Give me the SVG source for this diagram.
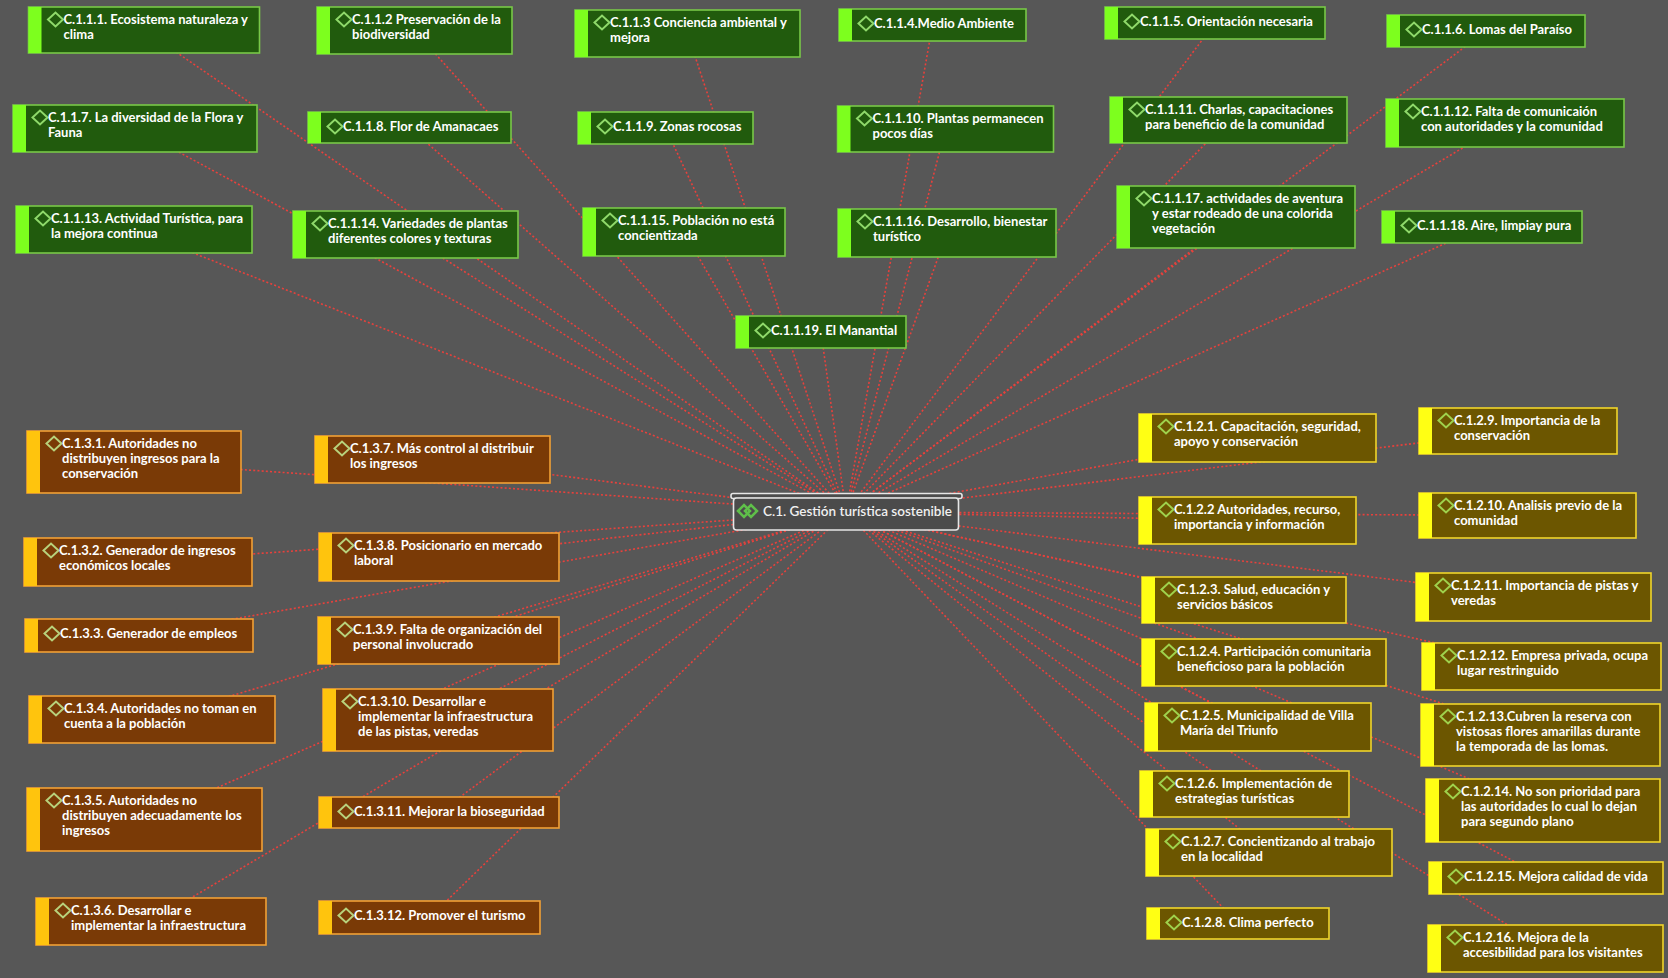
<svg xmlns="http://www.w3.org/2000/svg" width="1668" height="978" viewBox="0 0 1668 978">
<style>
.bg{fill:#575757}
.c line{stroke:#e8413c;stroke-width:1.6;stroke-dasharray:2 2.2;fill:none}
.box{stroke-width:1.6}
.dm{fill:none;stroke-width:2}
text{font-family:Lato,"Open Sans","Liberation Sans",sans-serif;font-weight:700;font-size:13px;fill:#ffffff}
.green .box{fill:#215b0d;stroke:#78c848}
.green .bar{fill:#7dff1e}
.green .dm{stroke:#8fd96a}
.orange .box{fill:#7a3a06;stroke:#f2a035}
.orange .bar{fill:#ffc40d}
.orange .dm{stroke:#b8d27c}
.yellow .box{fill:#6c5600;stroke:#f0d52a}
.yellow .bar{fill:#ffff14}
.yellow .dm{stroke:#9fd24c}
.center .box{fill:#4b4b4b;stroke:#e6e6e6}
.center .dm{stroke:#5fbf4a;stroke-width:2.5}
.center text{fill:#f0f0f0;font-weight:600;font-size:13.5px}
</style>
<rect class="bg" x="0" y="0" width="1668" height="978"/>
<g id="connectors" class="c">
<line x1="846" y1="512" x2="144" y2="30"/>
<line x1="846" y1="512" x2="414.5" y2="30.5"/>
<line x1="846" y1="512" x2="687.5" y2="33.5"/>
<line x1="846" y1="512" x2="932.5" y2="25"/>
<line x1="846" y1="512" x2="1215" y2="23"/>
<line x1="846" y1="512" x2="1486" y2="31"/>
<line x1="846" y1="512" x2="135" y2="128.5"/>
<line x1="846" y1="512" x2="409.5" y2="127.5"/>
<line x1="846" y1="512" x2="665.5" y2="128"/>
<line x1="846" y1="512" x2="945.5" y2="129"/>
<line x1="846" y1="512" x2="1228.5" y2="120"/>
<line x1="846" y1="512" x2="1505" y2="123"/>
<line x1="846" y1="512" x2="134" y2="229.5"/>
<line x1="846" y1="512" x2="405.5" y2="234.5"/>
<line x1="846" y1="512" x2="684" y2="232"/>
<line x1="846" y1="512" x2="947" y2="233"/>
<line x1="846" y1="512" x2="1236" y2="217"/>
<line x1="846" y1="512" x2="1482" y2="227"/>
<line x1="846" y1="512" x2="821" y2="332"/>
<line x1="846" y1="512" x2="134" y2="462"/>
<line x1="846" y1="512" x2="138" y2="562"/>
<line x1="846" y1="512" x2="139" y2="635.5"/>
<line x1="846" y1="512" x2="152" y2="719.5"/>
<line x1="846" y1="512" x2="144.5" y2="819.5"/>
<line x1="846" y1="512" x2="151" y2="921.5"/>
<line x1="846" y1="512" x2="432.5" y2="459.5"/>
<line x1="846" y1="512" x2="439" y2="557"/>
<line x1="846" y1="512" x2="438.5" y2="640.5"/>
<line x1="846" y1="512" x2="438" y2="720"/>
<line x1="846" y1="512" x2="439" y2="812.5"/>
<line x1="846" y1="512" x2="429.5" y2="917.5"/>
<line x1="846" y1="512" x2="1257.5" y2="438"/>
<line x1="846" y1="512" x2="1247.5" y2="520.5"/>
<line x1="846" y1="512" x2="1244" y2="600"/>
<line x1="846" y1="512" x2="1264" y2="662.5"/>
<line x1="846" y1="512" x2="1258" y2="727"/>
<line x1="846" y1="512" x2="1244.5" y2="794"/>
<line x1="846" y1="512" x2="1269" y2="852.5"/>
<line x1="846" y1="512" x2="1238" y2="923.5"/>
<line x1="846" y1="512" x2="1518" y2="431"/>
<line x1="846" y1="512" x2="1527.5" y2="515.5"/>
<line x1="846" y1="512" x2="1533.5" y2="597"/>
<line x1="846" y1="512" x2="1541.5" y2="666.5"/>
<line x1="846" y1="512" x2="1540.5" y2="735"/>
<line x1="846" y1="512" x2="1543" y2="810.5"/>
<line x1="846" y1="512" x2="1546" y2="878"/>
<line x1="846" y1="512" x2="1545.5" y2="948.5"/>
</g>

<g id="n-c111" class="green"><rect class="box" x="28.5" y="7" width="231" height="46"/><rect class="bar" x="28.5" y="7" width="13" height="46"/><path class="dm" d="M48,19.5 l7.5,-7 l7.5,7 l-7.5,7z"/><text x="63.5" y="24"><tspan x="63.5">C.1.1.1. Ecosistema naturaleza y</tspan><tspan x="63.5" dy="15">clima</tspan></text></g>
<g id="n-c112" class="green"><rect class="box" x="317" y="7" width="195" height="47"/><rect class="bar" x="317" y="7" width="13" height="47"/><path class="dm" d="M336.5,19.5 l7.5,-7 l7.5,7 l-7.5,7z"/><text x="352" y="24"><tspan x="352">C.1.1.2 Preservación de la</tspan><tspan x="352" dy="15">biodiversidad</tspan></text></g>
<g id="n-c113" class="green"><rect class="box" x="575" y="10" width="225" height="47"/><rect class="bar" x="575" y="10" width="13" height="47"/><path class="dm" d="M594.5,22.5 l7.5,-7 l7.5,7 l-7.5,7z"/><text x="610" y="27"><tspan x="610">C.1.1.3 Conciencia ambiental y</tspan><tspan x="610" dy="15">mejora</tspan></text></g>
<g id="n-c114" class="green"><rect class="box" x="839" y="9" width="187" height="32"/><rect class="bar" x="839" y="9" width="13" height="32"/><path class="dm" d="M858.5,23.5 l7.5,-7 l7.5,7 l-7.5,7z"/><text x="874" y="28">C.1.1.4.Medio Ambiente</text></g>
<g id="n-c115" class="green"><rect class="box" x="1105" y="7" width="220" height="32"/><rect class="bar" x="1105" y="7" width="13" height="32"/><path class="dm" d="M1124.5,21.5 l7.5,-7 l7.5,7 l-7.5,7z"/><text x="1140" y="26">C.1.1.5. Orientación necesaria</text></g>
<g id="n-c116" class="green"><rect class="box" x="1387" y="15" width="198" height="32"/><rect class="bar" x="1387" y="15" width="13" height="32"/><path class="dm" d="M1406.5,29.5 l7.5,-7 l7.5,7 l-7.5,7z"/><text x="1422" y="34">C.1.1.6. Lomas del Paraíso</text></g>
<g id="n-c117" class="green"><rect class="box" x="13" y="105" width="244" height="47"/><rect class="bar" x="13" y="105" width="13" height="47"/><path class="dm" d="M32.5,117.5 l7.5,-7 l7.5,7 l-7.5,7z"/><text x="48" y="122"><tspan x="48">C.1.1.7. La diversidad de la Flora y</tspan><tspan x="48" dy="15">Fauna</tspan></text></g>
<g id="n-c118" class="green"><rect class="box" x="308" y="112" width="203" height="31"/><rect class="bar" x="308" y="112" width="13" height="31"/><path class="dm" d="M327.5,126.5 l7.5,-7 l7.5,7 l-7.5,7z"/><text x="343" y="131">C.1.1.8. Flor de Amanacaes</text></g>
<g id="n-c119" class="green"><rect class="box" x="578" y="112" width="175" height="32"/><rect class="bar" x="578" y="112" width="13" height="32"/><path class="dm" d="M597.5,126.5 l7.5,-7 l7.5,7 l-7.5,7z"/><text x="613" y="131">C.1.1.9. Zonas rocosas</text></g>
<g id="n-c1110" class="green"><rect class="box" x="837.5" y="106" width="216" height="46"/><rect class="bar" x="837.5" y="106" width="13" height="46"/><path class="dm" d="M857,118.5 l7.5,-7 l7.5,7 l-7.5,7z"/><text x="872.5" y="123"><tspan x="872.5">C.1.1.10. Plantas permanecen</tspan><tspan x="872.5" dy="15">pocos días</tspan></text></g>
<g id="n-c1111" class="green"><rect class="box" x="1110" y="97" width="237" height="46"/><rect class="bar" x="1110" y="97" width="13" height="46"/><path class="dm" d="M1129.5,109.5 l7.5,-7 l7.5,7 l-7.5,7z"/><text x="1145" y="114"><tspan x="1145">C.1.1.11. Charlas, capacitaciones</tspan><tspan x="1145" dy="15">para beneficio de la comunidad</tspan></text></g>
<g id="n-c1112" class="green"><rect class="box" x="1386" y="99" width="238" height="48"/><rect class="bar" x="1386" y="99" width="13" height="48"/><path class="dm" d="M1405.5,111.5 l7.5,-7 l7.5,7 l-7.5,7z"/><text x="1421" y="116"><tspan x="1421">C.1.1.12. Falta de comunicaión</tspan><tspan x="1421" dy="15">con autoridades y la comunidad</tspan></text></g>
<g id="n-c1113" class="green"><rect class="box" x="16" y="206" width="236" height="47"/><rect class="bar" x="16" y="206" width="13" height="47"/><path class="dm" d="M35.5,218.5 l7.5,-7 l7.5,7 l-7.5,7z"/><text x="51" y="223"><tspan x="51">C.1.1.13. Actividad Turística, para</tspan><tspan x="51" dy="15">la mejora continua</tspan></text></g>
<g id="n-c1114" class="green"><rect class="box" x="293" y="211" width="225" height="47"/><rect class="bar" x="293" y="211" width="13" height="47"/><path class="dm" d="M312.5,223.5 l7.5,-7 l7.5,7 l-7.5,7z"/><text x="328" y="228"><tspan x="328">C.1.1.14. Variedades de plantas</tspan><tspan x="328" dy="15">diferentes colores y texturas</tspan></text></g>
<g id="n-c1115" class="green"><rect class="box" x="583" y="208" width="202" height="48"/><rect class="bar" x="583" y="208" width="13" height="48"/><path class="dm" d="M602.5,220.5 l7.5,-7 l7.5,7 l-7.5,7z"/><text x="618" y="225"><tspan x="618">C.1.1.15. Población no está</tspan><tspan x="618" dy="15">concientizada</tspan></text></g>
<g id="n-c1116" class="green"><rect class="box" x="838" y="209" width="218" height="48"/><rect class="bar" x="838" y="209" width="13" height="48"/><path class="dm" d="M857.5,221.5 l7.5,-7 l7.5,7 l-7.5,7z"/><text x="873" y="226"><tspan x="873">C.1.1.16. Desarrollo, bienestar</tspan><tspan x="873" dy="15">turístico</tspan></text></g>
<g id="n-c1117" class="green"><rect class="box" x="1117" y="186" width="238" height="62"/><rect class="bar" x="1117" y="186" width="13" height="62"/><path class="dm" d="M1136.5,198.5 l7.5,-7 l7.5,7 l-7.5,7z"/><text x="1152" y="203"><tspan x="1152">C.1.1.17. actividades de aventura</tspan><tspan x="1152" dy="15">y estar rodeado de una colorida</tspan><tspan x="1152" dy="15">vegetación</tspan></text></g>
<g id="n-c1118" class="green"><rect class="box" x="1382" y="211" width="200" height="32"/><rect class="bar" x="1382" y="211" width="13" height="32"/><path class="dm" d="M1401.5,225.5 l7.5,-7 l7.5,7 l-7.5,7z"/><text x="1417" y="230">C.1.1.18. Aire, limpiay pura</text></g>
<g id="n-c1119" class="green"><rect class="box" x="736" y="316" width="170" height="32"/><rect class="bar" x="736" y="316" width="13" height="32"/><path class="dm" d="M755.5,330.5 l7.5,-7 l7.5,7 l-7.5,7z"/><text x="771" y="335">C.1.1.19. El Manantial</text></g>

<g id="n-c131" class="orange"><rect class="box" x="27" y="431" width="214" height="62"/><rect class="bar" x="27" y="431" width="13" height="62"/><path class="dm" d="M46.5,443.5 l7.5,-7 l7.5,7 l-7.5,7z"/><text x="62" y="448"><tspan x="62">C.1.3.1. Autoridades no</tspan><tspan x="62" dy="15">distribuyen ingresos para la</tspan><tspan x="62" dy="15">conservación</tspan></text></g>
<g id="n-c132" class="orange"><rect class="box" x="24" y="538" width="228" height="48"/><rect class="bar" x="24" y="538" width="13" height="48"/><path class="dm" d="M43.5,550.5 l7.5,-7 l7.5,7 l-7.5,7z"/><text x="59" y="555"><tspan x="59">C.1.3.2. Generador de ingresos</tspan><tspan x="59" dy="15">económicos locales</tspan></text></g>
<g id="n-c133" class="orange"><rect class="box" x="25" y="619" width="228" height="33"/><rect class="bar" x="25" y="619" width="13" height="33"/><path class="dm" d="M44.5,633.5 l7.5,-7 l7.5,7 l-7.5,7z"/><text x="60" y="638">C.1.3.3. Generador de empleos</text></g>
<g id="n-c134" class="orange"><rect class="box" x="29" y="696" width="246" height="47"/><rect class="bar" x="29" y="696" width="13" height="47"/><path class="dm" d="M48.5,708.5 l7.5,-7 l7.5,7 l-7.5,7z"/><text x="64" y="713"><tspan x="64">C.1.3.4. Autoridades no toman en</tspan><tspan x="64" dy="15">cuenta a la población</tspan></text></g>
<g id="n-c135" class="orange"><rect class="box" x="27" y="788" width="235" height="63"/><rect class="bar" x="27" y="788" width="13" height="63"/><path class="dm" d="M46.5,800.5 l7.5,-7 l7.5,7 l-7.5,7z"/><text x="62" y="805"><tspan x="62">C.1.3.5. Autoridades no</tspan><tspan x="62" dy="15">distribuyen adecuadamente los</tspan><tspan x="62" dy="15">ingresos</tspan></text></g>
<g id="n-c136" class="orange"><rect class="box" x="36" y="898" width="230" height="47"/><rect class="bar" x="36" y="898" width="13" height="47"/><path class="dm" d="M55.5,910.5 l7.5,-7 l7.5,7 l-7.5,7z"/><text x="71" y="915"><tspan x="71">C.1.3.6. Desarrollar e</tspan><tspan x="71" dy="15">implementar la infraestructura</tspan></text></g>
<g id="n-c137" class="orange"><rect class="box" x="315" y="436" width="235" height="47"/><rect class="bar" x="315" y="436" width="13" height="47"/><path class="dm" d="M334.5,448.5 l7.5,-7 l7.5,7 l-7.5,7z"/><text x="350" y="453"><tspan x="350">C.1.3.7. Más control al distribuir</tspan><tspan x="350" dy="15">los ingresos</tspan></text></g>
<g id="n-c138" class="orange"><rect class="box" x="319" y="533" width="240" height="48"/><rect class="bar" x="319" y="533" width="13" height="48"/><path class="dm" d="M338.5,545.5 l7.5,-7 l7.5,7 l-7.5,7z"/><text x="354" y="550"><tspan x="354">C.1.3.8. Posicionario en mercado</tspan><tspan x="354" dy="15">laboral</tspan></text></g>
<g id="n-c139" class="orange"><rect class="box" x="318" y="617" width="241" height="47"/><rect class="bar" x="318" y="617" width="13" height="47"/><path class="dm" d="M337.5,629.5 l7.5,-7 l7.5,7 l-7.5,7z"/><text x="353" y="634"><tspan x="353">C.1.3.9. Falta de organización del</tspan><tspan x="353" dy="15">personal involucrado</tspan></text></g>
<g id="n-c1310" class="orange"><rect class="box" x="323" y="689" width="230" height="62"/><rect class="bar" x="323" y="689" width="13" height="62"/><path class="dm" d="M342.5,701.5 l7.5,-7 l7.5,7 l-7.5,7z"/><text x="358" y="706"><tspan x="358">C.1.3.10. Desarrollar e</tspan><tspan x="358" dy="15">implementar la infraestructura</tspan><tspan x="358" dy="15">de las pistas, veredas</tspan></text></g>
<g id="n-c1311" class="orange"><rect class="box" x="319" y="797" width="240" height="31"/><rect class="bar" x="319" y="797" width="13" height="31"/><path class="dm" d="M338.5,811.5 l7.5,-7 l7.5,7 l-7.5,7z"/><text x="354" y="816">C.1.3.11. Mejorar la bioseguridad</text></g>
<g id="n-c1312" class="orange"><rect class="box" x="319" y="901" width="221" height="33"/><rect class="bar" x="319" y="901" width="13" height="33"/><path class="dm" d="M338.5,915.5 l7.5,-7 l7.5,7 l-7.5,7z"/><text x="354" y="920">C.1.3.12. Promover el turismo</text></g>

<g id="n-c121" class="yellow"><rect class="box" x="1139" y="414" width="237" height="48"/><rect class="bar" x="1139" y="414" width="13" height="48"/><path class="dm" d="M1158.5,426.5 l7.5,-7 l7.5,7 l-7.5,7z"/><text x="1174" y="431"><tspan x="1174">C.1.2.1. Capacitación, seguridad,</tspan><tspan x="1174" dy="15">apoyo y conservación</tspan></text></g>
<g id="n-c122" class="yellow"><rect class="box" x="1139" y="497" width="217" height="47"/><rect class="bar" x="1139" y="497" width="13" height="47"/><path class="dm" d="M1158.5,509.5 l7.5,-7 l7.5,7 l-7.5,7z"/><text x="1174" y="514"><tspan x="1174">C.1.2.2 Autoridades, recurso,</tspan><tspan x="1174" dy="15">importancia y información</tspan></text></g>
<g id="n-c123" class="yellow"><rect class="box" x="1142" y="577" width="204" height="46"/><rect class="bar" x="1142" y="577" width="13" height="46"/><path class="dm" d="M1161.5,589.5 l7.5,-7 l7.5,7 l-7.5,7z"/><text x="1177" y="594"><tspan x="1177">C.1.2.3. Salud, educación y</tspan><tspan x="1177" dy="15">servicios básicos</tspan></text></g>
<g id="n-c124" class="yellow"><rect class="box" x="1142" y="639" width="244" height="47"/><rect class="bar" x="1142" y="639" width="13" height="47"/><path class="dm" d="M1161.5,651.5 l7.5,-7 l7.5,7 l-7.5,7z"/><text x="1177" y="656"><tspan x="1177">C.1.2.4. Participación comunitaria</tspan><tspan x="1177" dy="15">beneficioso para la población</tspan></text></g>
<g id="n-c125" class="yellow"><rect class="box" x="1145" y="703" width="226" height="48"/><rect class="bar" x="1145" y="703" width="13" height="48"/><path class="dm" d="M1164.5,715.5 l7.5,-7 l7.5,7 l-7.5,7z"/><text x="1180" y="720"><tspan x="1180">C.1.2.5. Municipalidad de Villa</tspan><tspan x="1180" dy="15">María del Triunfo</tspan></text></g>
<g id="n-c126" class="yellow"><rect class="box" x="1140" y="771" width="209" height="46"/><rect class="bar" x="1140" y="771" width="13" height="46"/><path class="dm" d="M1159.5,783.5 l7.5,-7 l7.5,7 l-7.5,7z"/><text x="1175" y="788"><tspan x="1175">C.1.2.6. Implementación de</tspan><tspan x="1175" dy="15">estrategias turísticas</tspan></text></g>
<g id="n-c127" class="yellow"><rect class="box" x="1146" y="829" width="246" height="47"/><rect class="bar" x="1146" y="829" width="13" height="47"/><path class="dm" d="M1165.5,841.5 l7.5,-7 l7.5,7 l-7.5,7z"/><text x="1181" y="846"><tspan x="1181">C.1.2.7. Concientizando al trabajo</tspan><tspan x="1181" dy="15">en la localidad</tspan></text></g>
<g id="n-c128" class="yellow"><rect class="box" x="1147" y="908" width="182" height="31"/><rect class="bar" x="1147" y="908" width="13" height="31"/><path class="dm" d="M1166.5,922.5 l7.5,-7 l7.5,7 l-7.5,7z"/><text x="1182" y="927">C.1.2.8. Clima perfecto</text></g>
<g id="n-c129" class="yellow"><rect class="box" x="1419" y="408" width="198" height="46"/><rect class="bar" x="1419" y="408" width="13" height="46"/><path class="dm" d="M1438.5,420.5 l7.5,-7 l7.5,7 l-7.5,7z"/><text x="1454" y="425"><tspan x="1454">C.1.2.9. Importancia de la</tspan><tspan x="1454" dy="15">conservación</tspan></text></g>
<g id="n-c1210" class="yellow"><rect class="box" x="1419" y="493" width="217" height="45"/><rect class="bar" x="1419" y="493" width="13" height="45"/><path class="dm" d="M1438.5,505.5 l7.5,-7 l7.5,7 l-7.5,7z"/><text x="1454" y="510"><tspan x="1454">C.1.2.10. Analisis previo de la</tspan><tspan x="1454" dy="15">comunidad</tspan></text></g>
<g id="n-c1211" class="yellow"><rect class="box" x="1416" y="573" width="235" height="48"/><rect class="bar" x="1416" y="573" width="13" height="48"/><path class="dm" d="M1435.5,585.5 l7.5,-7 l7.5,7 l-7.5,7z"/><text x="1451" y="590"><tspan x="1451">C.1.2.11. Importancia de pistas y</tspan><tspan x="1451" dy="15">veredas</tspan></text></g>
<g id="n-c1212" class="yellow"><rect class="box" x="1422" y="643" width="239" height="47"/><rect class="bar" x="1422" y="643" width="13" height="47"/><path class="dm" d="M1441.5,655.5 l7.5,-7 l7.5,7 l-7.5,7z"/><text x="1457" y="660"><tspan x="1457">C.1.2.12. Empresa privada, ocupa</tspan><tspan x="1457" dy="15">lugar restringuido</tspan></text></g>
<g id="n-c1213" class="yellow"><rect class="box" x="1421" y="704" width="239" height="62"/><rect class="bar" x="1421" y="704" width="13" height="62"/><path class="dm" d="M1440.5,716.5 l7.5,-7 l7.5,7 l-7.5,7z"/><text x="1456" y="721"><tspan x="1456">C.1.2.13.Cubren la reserva con</tspan><tspan x="1456" dy="15">vistosas flores amarillas durante</tspan><tspan x="1456" dy="15">la temporada de las lomas.</tspan></text></g>
<g id="n-c1214" class="yellow"><rect class="box" x="1426" y="779" width="234" height="63"/><rect class="bar" x="1426" y="779" width="13" height="63"/><path class="dm" d="M1445.5,791.5 l7.5,-7 l7.5,7 l-7.5,7z"/><text x="1461" y="796"><tspan x="1461">C.1.2.14. No son prioridad para</tspan><tspan x="1461" dy="15">las autoridades lo cual lo dejan</tspan><tspan x="1461" dy="15">para segundo plano</tspan></text></g>
<g id="n-c1215" class="yellow"><rect class="box" x="1429" y="862" width="234" height="32"/><rect class="bar" x="1429" y="862" width="13" height="32"/><path class="dm" d="M1448.5,876.5 l7.5,-7 l7.5,7 l-7.5,7z"/><text x="1464" y="881">C.1.2.15. Mejora calidad de vida</text></g>
<g id="n-c1216" class="yellow"><rect class="box" x="1428" y="925" width="235" height="47"/><rect class="bar" x="1428" y="925" width="13" height="47"/><path class="dm" d="M1447.5,937.5 l7.5,-7 l7.5,7 l-7.5,7z"/><text x="1463" y="942"><tspan x="1463">C.1.2.16. Mejora de la</tspan><tspan x="1463" dy="15">accesibilidad para los visitantes</tspan></text></g>

<g id="n-c1" class="center"><rect class="box" x="731" y="493.5" width="231" height="5" rx="2"/><rect class="box" x="733.5" y="498" width="225" height="32" rx="3"/><path class="dm" d="M738,511 l6,-6 l6,6 l-6,6z"/><path class="dm" d="M745,511 l6,-6 l6,6 l-6,6z"/><text x="763" y="516">C.1. Gestión turística sostenible</text></g>
</svg>
